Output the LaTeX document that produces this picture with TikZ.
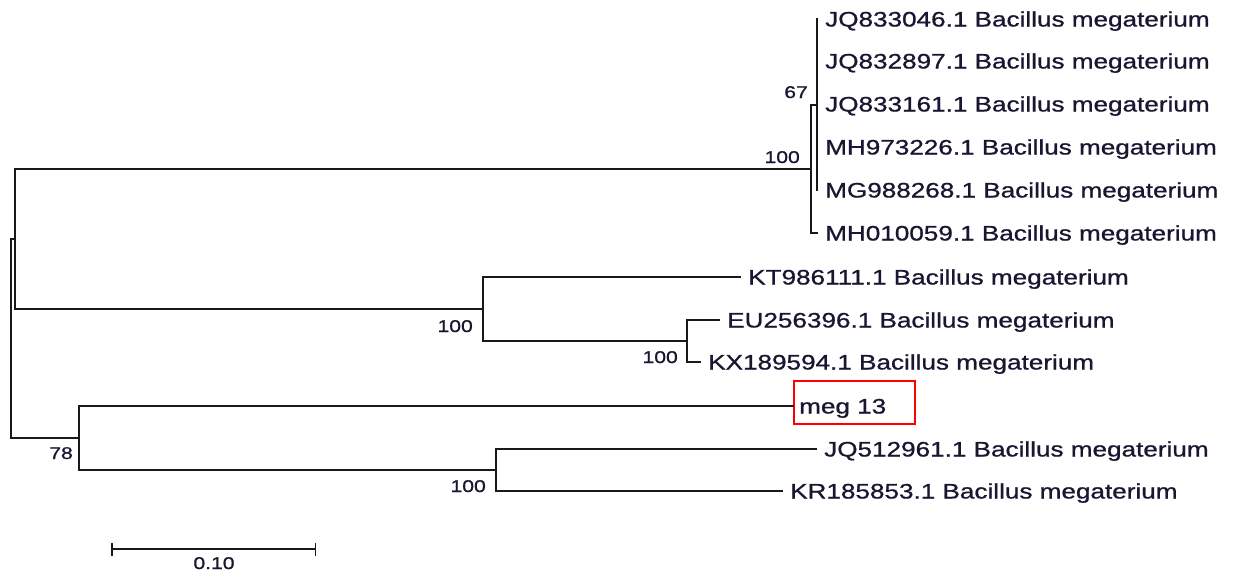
\documentclass[tikz,border=0pt]{standalone}
\usepackage{fontspec}
\usepackage{graphicx}
\usetikzlibrary{arrows.meta}
\setmainfont[FakeBold=0.8]{Liberation Sans}
\definecolor{ink}{RGB}{24,22,48}
\definecolor{edge}{RGB}{25,25,25}
% labels are set slightly widened, as in the tree viewer's rendering
\newcommand{\wide}[1]{\scalebox{1.243}[1]{#1}}
\newcommand{\taxon}[1]{\wide{#1 Bacillus megaterium}}
\tikzset{
  branch/.style={draw=edge, line width=1.5pt, line cap=rect},
  leaf/.style={anchor=west, inner xsep=8pt, inner ysep=0pt, text height=15pt,
    text depth=0pt, text=ink, font=\fontsize{21}{24}\selectfont},
  boot/.style={inner sep=0pt, text=ink, font=\fontsize{17}{20}\selectfont},
  highlight/.style={draw=red, line width=1.6pt, anchor=north west,
    minimum width=121pt, minimum height=43pt, inner sep=0pt},
}
\begin{document}
\begin{tikzpicture}[x=1pt, y=-1pt]
\useasboundingbox (0,0) rectangle (1237,574);

% internal nodes of the tree
\coordinate (root) at (11,338.5);
\coordinate (nA)   at (15,239);
\coordinate (n100) at (811,169);
\coordinate (n67)  at (817,105);
\coordinate (nB)   at (483,309);
\coordinate (nC)   at (687,341);
\coordinate (nD)   at (79,438);
\coordinate (nE)   at (496,470);

% taxa
\node[leaf] (t1)  at (817,19)  {\taxon{JQ833046.1}};
\node[leaf] (t2)  at (817,61)  {\taxon{JQ832897.1}};
\node[leaf] (t3)  at (817,104) {\taxon{JQ833161.1}};
\node[leaf] (t4)  at (817,147) {\taxon{MH973226.1}};
\node[leaf] (t5)  at (817,190) {\taxon{MG988268.1}};
\node[leaf] (t6)  at (817,233) {\taxon{MH010059.1}};
\node[leaf] (t7)  at (740,277) {\taxon{KT986111.1}};
\node[leaf] (t8)  at (719,320) {\taxon{EU256396.1}};
\node[leaf] (t9)  at (700,362) {\taxon{KX189594.1}};
\node[leaf, inner xsep=6pt] (meg) at (793,406) {\wide{meg 13}};
\node[leaf] (t11) at (816,449) {\taxon{JQ512961.1}};
\node[leaf] (t12) at (782,491) {\taxon{KR185853.1}};

\node[highlight] (megbox) at (793,380) {};

% branches
\draw[branch] (root) |- (nA);
\draw[branch] (root) |- (nD);
\draw[branch] (nA) |- (n100);
\draw[branch] (nA) |- (nB);
\draw[branch] (n100) |- (n67);
\draw[branch] (n100) |- (t6.west);
\foreach \t in {t1,t2,t3,t4,t5} \draw[branch] (n67) |- (\t.west);
\draw[branch] (nB) |- (t7.west);
\draw[branch] (nB) |- (nC);
\draw[branch] (nC) |- (t8.west);
\draw[branch] (nC) |- (t9.west);
\draw[branch] (nD) |- (meg.west);
\draw[branch] (nD) |- (nE);
\draw[branch] (nE) |- (t11.west);
\draw[branch] (nE) |- (t12.west);

% bootstrap support values
\node[boot, anchor=base east] (b67)   at (808,98)  {\wide{67}};
\node[boot, anchor=base east] (b100a) at (800,163) {\wide{100}};
\node[boot, anchor=base east] (b100b) at (473,332) {\wide{100}};
\node[boot, anchor=base east] (b100c) at (678,363) {\wide{100}};
\node[boot, anchor=base east] (b78)   at (73,459)  {\wide{78}};
\node[boot, anchor=base east] (b100e) at (486,492) {\wide{100}};

% scale bar
\coordinate (s0) at (111,549);
\coordinate (s1) at (316,549);
\draw[branch, line cap=butt, {Bar[width=13pt]}-{Bar[width=13pt]}] (s0) -- (s1);
\node[boot, anchor=base] (slabel) at (214,569) {\wide{0.10}};
\end{tikzpicture}
\end{document}
